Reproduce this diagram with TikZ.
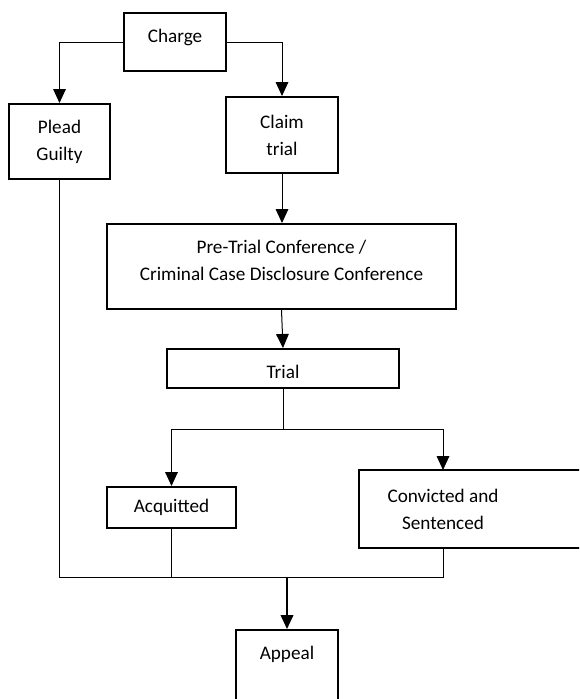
\documentclass[tikz,border=0pt]{standalone}
\usepackage{fontspec}
\setmainfont{Carlito}
\usepackage{tikz}
\usetikzlibrary{arrows.meta}

\begin{document}
\begin{tikzpicture}[x=1pt,y=-1pt,
  box/.style={draw,line width=2pt,align=center,inner sep=0pt,font=\fontsize{19.2}{27}\selectfont},
  link/.style={line width=1pt},
  arr/.style={link,-{Triangle[width=12.7pt,length=14pt]}}]
\useasboundingbox (0,0) rectangle (579,699);
\clip (0,0) rectangle (579,699);

% Charge
\node[box,minimum width=102pt,minimum height=58pt,text depth=12.5pt] (charge) at (175,42) {Charge};

% Plea
\node[box,minimum width=101pt,minimum height=75pt] (plead) at (59.5,141.5) {Plead\\Guilty};
\node[box,minimum width=112pt,minimum height=76pt] (claim) at (282,135) {Claim\\trial};

\draw[arr] (charge.west) -| (plead.north);
\draw[arr] (charge.east) -| (claim.north);

% Conference and trial
\node[box,minimum width=349pt,minimum height=85pt] (pretrial) at (281.5,266.5)
  {Pre-Trial Conference /\\Criminal Case Disclosure Conference\\[-14pt]\mbox{}};
\node[box,minimum width=232pt,minimum height=39pt,text height=21pt] (trial) at (283,368.5) {Trial};

\draw[arr] (claim.south) -- (claim.south |- pretrial.north);
\draw[arr] (pretrial.south) -- (trial.north);

% Verdict
\node[box,minimum width=129pt,minimum height=41pt] (acq) at (171.5,507.5) {Acquitted};
\node[box,draw=none,minimum width=166pt,minimum height=76pt] (conv) at (443,509)
  {Convicted and\\Sentenced};
\draw[line width=2pt] (conv.north west) rectangle ([xshift=60pt]conv.south east);

\coordinate (split) at (283,429);
\draw[link] (trial.south) -- (split);
\draw[arr] (split) -| (acq.north);
\draw[arr] (split) -| (conv.north);

% Appeal
\node[box,minimum width=102pt,minimum height=72pt] (appeal) at (287,666) {Appeal\\\mbox{}};

\coordinate (merge) at (287,577);
\draw[link] (plead.south) |- (merge);
\draw[link] (acq.south) |- (merge);
\draw[link] (conv.south) |- (merge);
\draw[arr,line width=1.6pt] (merge) -- (appeal.north);
\end{tikzpicture}
\end{document}
